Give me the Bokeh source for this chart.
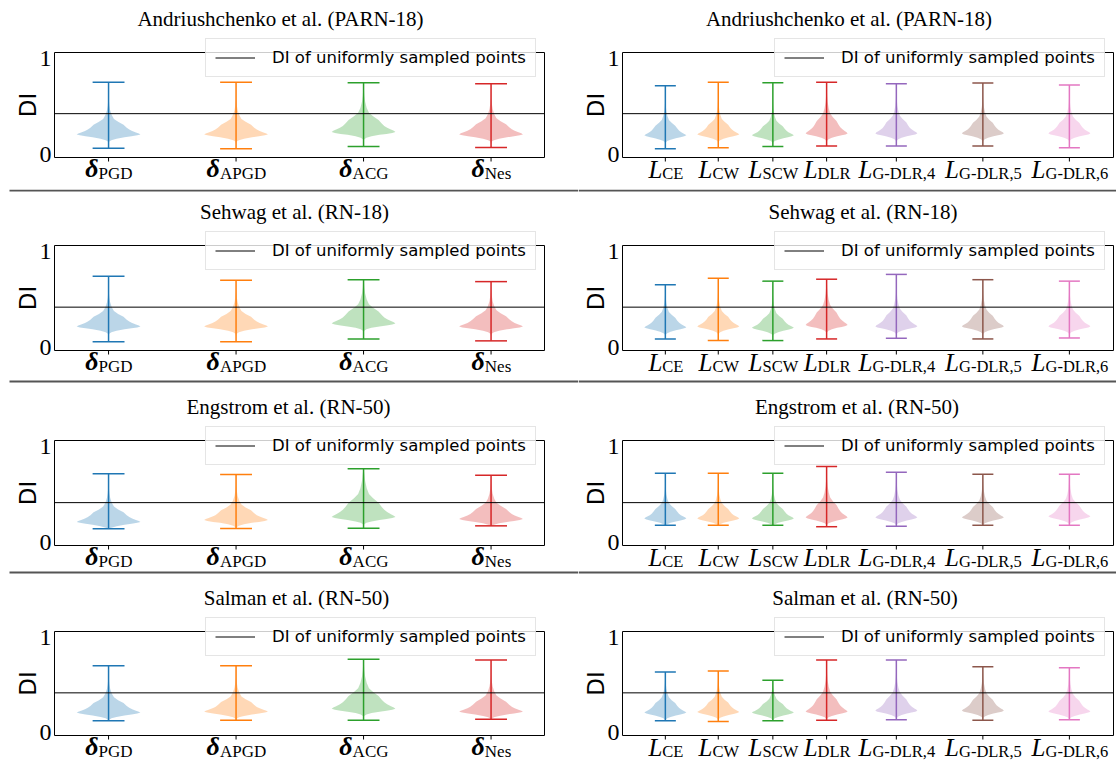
import math
from bokeh.plotting import figure
from bokeh.models import ColumnDataSource, Legend, LegendItem, Range1d
from bokeh.layouts import column, row
from bokeh.core.properties import value
from bokeh.embed import file_html
from bokeh.resources import INLINE

# ---------------- data ----------------
row_titles = ["Andriushchenko et al. (PARN-18)", "Sehwag et al. (RN-18)",
              "Engstrom et al. (RN-50)", "Salman et al. (RN-50)"]
uniform_di = [0.425, 0.42, 0.415, 0.417]
y_ticks = [0, 1]

attack_names = ["PGD", "APGD", "ACG", "Nes"]
attack_pos = [1, 2, 3, 4]
attack_hi = [[0.750, 0.750, 0.745, 0.735],
             [0.740, 0.700, 0.705, 0.685],
             [0.716, 0.708, 0.768, 0.700],
             [0.700, 0.700, 0.770, 0.760]]
attack_lo = [[0.066, 0.060, 0.085, 0.075],
             [0.060, 0.060, 0.090, 0.070],
             [0.143, 0.147, 0.150, 0.174],
             [0.125, 0.130, 0.130, 0.140]]
attack_mode = [[0.210, 0.210, 0.235, 0.210],
               [0.220, 0.220, 0.250, 0.220],
               [0.215, 0.235, 0.265, 0.245],
               [0.210, 0.220, 0.250, 0.220]]
attack_tail = [[1.00, 1.00, 1.25, 1.05],
               [1.00, 1.00, 1.25, 1.05],
               [1.00, 1.00, 1.50, 1.05],
               [1.00, 1.00, 1.35, 1.05]]

loss_names = ["CE", "CW", "SCW", "DLR", "G-DLR,4", "G-DLR,5", "G-DLR,6"]
loss_pos = [0.51, 1.14, 1.79, 2.43, 3.26, 4.29, 5.32]
loss_hi = [[0.715, 0.750, 0.747, 0.750, 0.736, 0.743, 0.722],
           [0.653, 0.720, 0.690, 0.710, 0.760, 0.705, 0.690],
           [0.720, 0.720, 0.720, 0.790, 0.730, 0.710, 0.710],
           [0.635, 0.646, 0.550, 0.760, 0.760, 0.690, 0.680]]
loss_lo = [[0.060, 0.070, 0.083, 0.090, 0.090, 0.090, 0.070],
           [0.090, 0.073, 0.073, 0.090, 0.097, 0.090, 0.100],
           [0.180, 0.180, 0.180, 0.165, 0.170, 0.180, 0.180],
           [0.125, 0.118, 0.125, 0.130, 0.135, 0.130, 0.135]]
loss_mode = [[0.200, 0.210, 0.200, 0.220, 0.220, 0.220, 0.220],
             [0.210, 0.220, 0.205, 0.235, 0.220, 0.220, 0.220],
             [0.250, 0.250, 0.250, 0.260, 0.260, 0.260, 0.270],
             [0.210, 0.215, 0.210, 0.220, 0.230, 0.230, 0.220]]
loss_tail = [[1.00, 1.00, 0.95, 1.30, 1.15, 1.10, 1.10],
             [1.00, 1.00, 0.95, 1.30, 1.15, 1.10, 1.10],
             [1.00, 1.00, 1.00, 1.30, 1.15, 1.10, 1.15],
             [1.00, 1.00, 0.90, 1.30, 1.20, 1.15, 1.15]]

# shared violin silhouette (offset from peak, relative half width)
profile_lower_dy = [0.0, -0.01, -0.02, -0.03, -0.045, -0.06, -0.075, -0.10]
profile_lower_w = [1.0, 0.90, 0.72, 0.50, 0.25, 0.09, 0.02, 0.005]
profile_upper_dy = [0.0, 0.01, 0.02, 0.035, 0.05, 0.07, 0.10, 0.13, 0.16, 0.20, 0.25, 0.30, 0.36]
profile_upper_w = [1.0, 0.95, 0.86, 0.74, 0.65, 0.57, 0.47, 0.30, 0.17, 0.10, 0.05, 0.025, 0.01]

# ---------------- styling / layout ----------------
TAB = ["#1f77b4", "#ff7f0e", "#2ca02c", "#d62728", "#9467bd", "#8c564b", "#e377c2"]
SERIF = "Liberation Serif"
SANS = "DejaVu Sans"
TIMES_W = {"P": .556, "G": .722, "D": .722, "A": .722, "C": .667, "N": .722, "e": .444,
           "s": .389, "E": .611, "W": .944, "S": .556, "L": .611, "R": .667, "-": .333,
           ",": .25, "4": .5, "5": .5, "6": .5}

YLIM = (-0.03, 1.06)
ROW_H = [189, 194, 195, 183]        # figure heights (px); rows start at 0, 189, 383, 578
ROW_BT = [52, 56, 57, 53]           # axes box top inside each row (px)
ROW_FH = [105, 105, 105, 104]       # axes box height (px)
ROW_SEPS = [[], [1, 192], [189], []]  # separator centres, px from the row top
TITLE_SHIFT = [-19, -5, -11, -3]    # title centre shift from box centre (px)
MAIN_BOTTOM = 25.5                  # px below box bottom for symbol text-box bottom
SUB_BOTTOM = 25.5
LEFT_W, RIGHT_W = 578, 538
LEFT_BOX = (54, 544)                # px inside the left figure
RIGHT_BOX = (44, 535)               # px inside the right figure
LEFT_UNIT, RIGHT_UNIT = 127.5, 84.0
LEFT_X0, RIGHT_X0 = 0.576, 0.0      # data x at the box left edge


def violin_shape(pos, lo, hi, mode, tail, half):
    low = [(mode + dy, w) for dy, w in zip(profile_lower_dy, profile_lower_w) if mode + dy > lo]
    low = low[::-1]
    up = [(mode + dy * tail, w) for dy, w in zip(profile_upper_dy[1:], profile_upper_w[1:])
          if mode + dy * tail < hi]
    pts = [(lo, 0.004)] + low + up + [(hi, 0.004)]
    xs = [pos + w * half for _, w in pts] + [pos - w * half for _, w in pts[::-1]]
    ys = [y for y, _ in pts] + [y for y, _ in pts[::-1]]
    return xs, ys


def make_panel(r, names, pos, hi, lo, mode, tail, width, box, unit, x0, sep_left_px,
               legend_x, main_char, main_style, main_size, main_w, sub_size):
    h, bt, fh = ROW_H[r], ROW_BT[r], ROW_FH[r]
    sy = fh / (YLIM[1] - YLIM[0])                      # px per DI unit
    y_start = YLIM[0] - (h - bt - fh) / sy
    y_end = YLIM[1] + bt / sy
    x_start = x0 - box[0] / unit
    x_end = x0 + (width - box[0]) / unit
    bx0, bx1 = x0, x0 + (box[1] - box[0]) / unit

    p = figure(width=width, height=h, x_range=Range1d(x_start, x_end),
               y_range=Range1d(y_start, y_end), output_backend="svg",
               toolbar_location=None, x_axis_location=None, y_axis_location=None,
               min_border=0)
    p.outline_line_color = None
    p.grid.visible = False
    p.background_fill_color = "white"
    p.border_fill_color = "white"

    n = len(names)
    colors = TAB[:n]

    # axes box
    p.quad(left=[bx0], right=[bx1], bottom=[YLIM[0]], top=[YLIM[1]], fill_color=None,
           line_color="black", line_width=1)

    # violins
    vxs, vys = [], []
    for i in range(n):
        xs, ys = violin_shape(pos[i], lo[i], hi[i], mode[i], tail[i], 0.25)
        vxs.append(xs)
        vys.append(ys)
    p.patches(xs=vxs, ys=vys, fill_color=colors, fill_alpha=0.3, line_color=None)

    seg = ColumnDataSource(dict(x=pos, lo=lo, hi=hi, c=colors,
                                xl=[v - 0.125 for v in pos], xr=[v + 0.125 for v in pos]))
    p.segment(x0="x", y0="lo", x1="x", y1="hi", line_color="c", line_width=1.5, source=seg)
    p.segment(x0="xl", y0="hi", x1="xr", y1="hi", line_color="c", line_width=1.5, source=seg)
    p.segment(x0="xl", y0="lo", x1="xr", y1="lo", line_color="c", line_width=1.5, source=seg)

    # reference line (uniform DI)
    hl = p.segment(x0=[bx0], x1=[bx1], y0=[uniform_di[r]], y1=[uniform_di[r]],
                   line_color="black", line_width=1)

    # x ticks
    p.segment(x0=pos, x1=pos, y0=[YLIM[0]] * n, y1=[YLIM[0] - 4 / sy] * n,
              line_color="black", line_width=1)

    # y tick labels
    p.text(x=[bx0] * len(y_ticks), y=y_ticks, text=[str(t) for t in y_ticks], x_offset=-3,
           text_align="right", text_baseline="middle", text_font=value(SERIF),
           text_font_size="24px", text_color="black")
    # y axis label
    p.text(x=[bx0], y=[(YLIM[0] + YLIM[1]) / 2], text=["DI"], angle=math.pi / 2,
           x_offset=-27, text_align="center", text_baseline="middle",
           text_font=value(SANS), text_font_size="23px", text_color="black")
    # title
    p.text(x=[(bx0 + bx1) / 2], y=[YLIM[1]], text=[row_titles[r]], y_offset=-34,
           x_offset=TITLE_SHIFT[r], text_align="center", text_baseline="middle",
           text_font=value(SERIF), text_font_size="21px", text_color="black")

    # math-like category labels: main symbol + subscript
    sub_w = [sum(TIMES_W.get(c, 0.5) for c in s) * sub_size for s in names]
    xo = [-(main_w + sw) / 2 + main_w for sw in sub_w]
    lsrc = ColumnDataSource(dict(x=pos, y=[YLIM[0]] * n, m=[main_char] * n, s=names, xo=xo))
    p.text(x="x", y="y", text="m", x_offset="xo", y_offset=MAIN_BOTTOM, source=lsrc,
           text_align="right", text_baseline="bottom", text_font=value(SERIF),
           text_font_style=value(main_style), text_font_size=value(main_size),
           text_color="black")
    p.text(x="x", y="y", text="s", x_offset="xo", y_offset=SUB_BOTTOM, source=lsrc,
           text_align="left", text_baseline="bottom", text_font=value(SERIF),
           text_font_style=value("normal"), text_font_size=value(f"{sub_size}px"),
           text_color="black")

    # separator lines between rows
    for spx in ROW_SEPS[r]:
        ysep = y_end - spx / sy
        p.segment(x0=[x_start + sep_left_px / unit], x1=[x_end], y0=[ysep], y1=[ysep],
                  line_color="#555555", line_width=2)

    legend = Legend(items=[LegendItem(label="DI of uniformly sampled points", renderers=[hl])],
                    location=(legend_x, h - bt - 25))
    legend.label_text_font = SANS
    legend.label_text_font_size = "16.5px"
    legend.label_text_color = "black"
    legend.glyph_width = 40
    legend.glyph_height = 19
    legend.label_height = 19
    legend.label_standoff = 17
    legend.padding = 9
    legend.margin = 0
    legend.spacing = 0
    legend.border_line_color = "#cccccc"
    legend.border_line_width = 1
    legend.background_fill_alpha = 0.8
    p.add_layout(legend)
    return p


children = []
for r in range(4):
    pl = make_panel(r, attack_names, attack_pos, attack_hi[r], attack_lo[r], attack_mode[r],
                    attack_tail[r], LEFT_W, LEFT_BOX, LEFT_UNIT, LEFT_X0, 9, 205,
                    "δ", "bold italic", "26px", 14, 17)
    pr = make_panel(r, loss_names, loss_pos, loss_hi[r], loss_lo[r], loss_mode[r],
                    loss_tail[r], RIGHT_W, RIGHT_BOX, RIGHT_UNIT, RIGHT_X0, 0, 196,
                    "L", "italic", "25px", 15, 16.5)
    children.append(row(pl, pr))

layout = column(*children)
open("out.html", "w").write(file_html(layout, INLINE))
